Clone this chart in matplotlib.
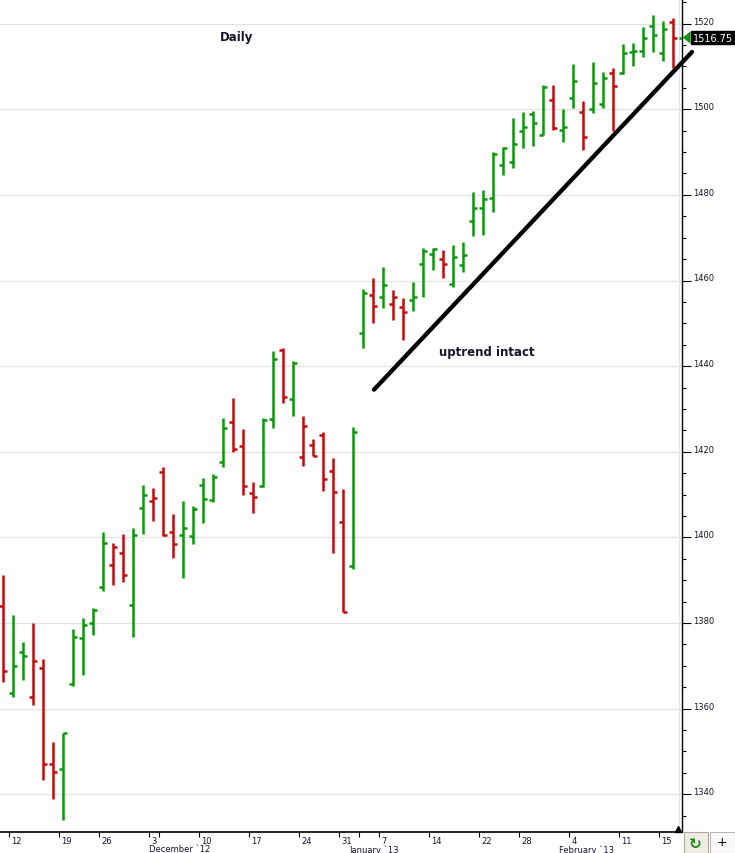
import numpy as np
import matplotlib
matplotlib.use("Agg")
import matplotlib.pyplot as plt
from matplotlib.ticker import MultipleLocator
from matplotlib.transforms import ScaledTranslation, blended_transform_factory
from matplotlib.patches import Polygon, Rectangle

# Daily OHLC bars, Nov 9 2012 .. Feb 2013
opens = [1384.0, 1363.6, 1373.3, 1362.8, 1369.5, 1347.0, 1346.0, 1365.8, 1376.4, 1380.0,
         1388.5, 1393.6, 1396.3, 1384.3, 1406.8, 1408.6, 1415.3, 1401.3, 1400.5, 1400.4,
         1412.3, 1408.8, 1417.7, 1427.0, 1421.4, 1410.4, 1412.1, 1427.6, 1443.8, 1432.3,
         1418.8, 1421.6, 1424.0, 1415.6, 1403.5, 1393.4, 1447.7, 1456.7, 1456.2, 1454.5,
         1453.7, 1455.5, 1463.9, 1466.2, 1465.0, 1459.2, 1463.7, 1473.8, 1476.9, 1479.3,
         1487.1, 1487.8, 1495.0, 1498.9, 1494.0, 1502.2, 1495.2, 1502.6, 1499.4, 1500.1,
         1501.2, 1508.5, 1508.5, 1513.3, 1513.6, 1519.5, 1513.1, 1520.4, 1516.75]
highs = [1391.2, 1381.8, 1375.6, 1380.0, 1371.6, 1352.1, 1354.4, 1378.6, 1381.1, 1383.4,
         1401.2, 1398.7, 1400.8, 1402.3, 1412.2, 1411.5, 1416.4, 1405.4, 1408.6, 1407.4,
         1413.9, 1414.8, 1428.0, 1432.5, 1425.3, 1412.9, 1428.0, 1443.5, 1444.2, 1441.3,
         1428.3, 1423.0, 1424.5, 1418.5, 1411.3, 1425.7, 1458.0, 1460.6, 1463.1, 1457.8,
         1455.9, 1459.6, 1467.6, 1467.6, 1467.1, 1468.3, 1468.9, 1480.6, 1481.1, 1490.0,
         1491.1, 1498.0, 1499.4, 1499.7, 1505.7, 1505.7, 1500.1, 1510.6, 1501.9, 1511.0,
         1508.8, 1509.6, 1515.3, 1515.4, 1519.2, 1522.1, 1520.7, 1521.4, 1516.75]
lows = [1366.3, 1362.8, 1366.7, 1360.9, 1343.4, 1339.0, 1334.0, 1365.3, 1367.9, 1377.2,
        1387.5, 1388.9, 1389.5, 1376.8, 1400.8, 1403.9, 1400.4, 1395.2, 1390.5, 1398.4,
        1403.3, 1408.3, 1416.5, 1419.9, 1410.0, 1405.8, 1411.7, 1425.5, 1431.3, 1428.4,
        1416.6, 1419.1, 1410.9, 1396.3, 1382.5, 1392.6, 1444.2, 1450.1, 1453.5, 1450.8,
        1446.2, 1452.8, 1456.1, 1462.5, 1460.5, 1458.4, 1462.1, 1470.5, 1470.7, 1475.9,
        1484.7, 1486.4, 1491.0, 1491.5, 1494.0, 1495.2, 1492.3, 1500.2, 1490.6, 1499.1,
        1500.2, 1494.9, 1508.3, 1510.0, 1512.3, 1513.3, 1511.2, 1509.6, 1516.75]
closes = [1368.8, 1369.9, 1372.2, 1371.2, 1347.0, 1345.2, 1354.4, 1376.8, 1379.6, 1383.0,
          1398.6, 1397.7, 1391.3, 1400.6, 1410.0, 1409.2, 1400.5, 1398.4, 1402.2, 1406.6,
          1408.9, 1414.2, 1425.5, 1420.6, 1412.1, 1409.5, 1427.5, 1441.7, 1432.9, 1440.7,
          1426.1, 1419.1, 1413.6, 1410.7, 1382.6, 1424.7, 1457.0, 1454.0, 1459.0, 1456.1,
          1452.7, 1456.1, 1467.0, 1467.4, 1463.9, 1465.6, 1466.0, 1476.9, 1479.0, 1489.6,
          1491.0, 1491.9, 1495.8, 1496.8, 1505.3, 1495.6, 1495.9, 1506.7, 1493.6, 1506.1,
          1507.4, 1505.5, 1513.1, 1513.7, 1516.7, 1517.4, 1518.8, 1516.75, 1516.75]
prior_close = 1375.0  # close before the first bar shown
last_price = 1516.75

# date axis: bar index of each labelled day, and of each month's first bar
day_idx = [1, 6, 10, 15, 20, 25, 30, 34, 38, 43, 48, 52, 57, 62, 66]
day_labels = ['12', '19', '26', '3', '10', '17', '24', '31', '7', '14', '22', '28', '4', '11', '15']
month_idx = [15, 35, 56]
month_labels = ['December `12', 'January `13', 'February `13']

price_ticks = list(range(1340, 1521, 20))

# hand drawn trend line (bar index, price)
trend_x = [37.13, 68.93]
trend_y = [1434.5, 1513.4]

green = '#0b960b'
red = '#c20a0a'
txt = '#14142c'

o = np.array(opens)
h = np.array(highs)
l = np.array(lows)
c = np.array(closes)
x = np.arange(len(c))
prev = np.concatenate([[prior_close], c[:-1]])
cols = np.where(c >= prev, green, red)

fig = plt.figure(figsize=(7.35, 8.54), dpi=100)
W, H = 735, 854
ax = fig.add_axes([0, 21.3 / H, 682.3 / W, 832.7 / H])

ax.vlines(x, l, h, colors=cols, lw=1.8, capstyle='butt', zorder=3)
ax.hlines(o, x - 0.38, x, colors=cols, lw=1.8, capstyle='butt', zorder=3)
ax.hlines(c, x, x + 0.38, colors=cols, lw=1.8, capstyle='butt', zorder=3)

ax.set_xlim(-0.27, 67.96)
ax.set_ylim(1331.25, 1525.76)

# axes look
for s in ['top', 'left']:
    ax.spines[s].set_visible(False)
ax.spines['right'].set_linewidth(1.0)
ax.spines['bottom'].set_linewidth(1.2)
ax.set_axisbelow(True)
ax.grid(axis='y', which='major', color='#e3e3e3', lw=0.9)
ax.axvline(x[-1] - 0.34, color='#e3e3e3', lw=0.8, zorder=1)

ax.yaxis.tick_right()
ax.set_yticks(price_ticks)
ax.yaxis.set_minor_locator(MultipleLocator(5))
ax.tick_params(axis='y', which='major', length=6.7, width=0.8, pad=1.2,
               labelsize=6, labelcolor=txt)
ax.tick_params(axis='y', which='minor', length=2.8, width=0.8)
up = ScaledTranslation(0, 3.6 / 100, fig.dpi_scale_trans)
for lab in ax.get_yticklabels():
    lab.set_transform(lab.get_transform() + up)

ax.set_xticks([i - 0.34 for i in day_idx])
ax.set_xticklabels(day_labels)
ax.set_xticks([i + 0.66 for i in month_idx], minor=True)
ax.tick_params(axis='x', which='both', length=3.6, width=0.8, pad=0,
               labelsize=6, labelcolor=txt)
right = ScaledTranslation(2.2 / 100, 0.8 / 100, fig.dpi_scale_trans)
for lab in ax.get_xticklabels():
    lab.set_ha('left')
    lab.set_transform(lab.get_transform() + right)

for i, m in zip(month_idx, month_labels):
    ax.annotate(m, xy=(i - 0.34, 0), xycoords=('data', 'axes fraction'),
                xytext=(0, -8.9), textcoords='offset points',
                ha='left', va='top', fontsize=6, color=txt, annotation_clip=False)

# trend line and notes
ax.plot(trend_x, trend_y, color='black', lw=3.1, solid_capstyle='round',
        clip_on=False, zorder=4)
ax.text(0.3474, 0.9544, 'Daily', transform=ax.transAxes, ha='center', va='center',
        fontsize=8.5, fontweight='bold', color=txt)
ax.text(0.7138, 0.5764, 'uptrend intact', transform=ax.transAxes, ha='center',
        va='center', fontsize=8.5, fontweight='bold', color=txt)

# last price marker on the price axis
bt = blended_transform_factory(fig.transFigure, ax.transData)
tri = Polygon([[682.7 / W, last_price], [690.5 / W, last_price + 1.45],
               [690.5 / W, last_price - 1.45]], closed=True, fc=green, ec='none',
              transform=bt, clip_on=False, zorder=5)
ax.add_patch(tri)
ax.text(693 / W, last_price, f'{last_price:.2f}', transform=bt, ha='left', va='center',
        fontsize=7, color='white', clip_on=False, zorder=6,
        bbox=dict(boxstyle='square,pad=0.18', fc='black', ec='black'))

# current bar marker on the date axis
ax.plot([x[-1] - 0.45], [0.0035], marker='^', ms=4.2, color='black',
        transform=blended_transform_factory(ax.transData, ax.transAxes),
        clip_on=False, zorder=6)

# little toolbar buttons in the corner
fig.add_artist(Rectangle((683.5 / W, 0), 24 / W, 21.5 / H, transform=fig.transFigure,
                         fc='#efece2', ec='#a9a9a9', lw=0.8))
fig.add_artist(Rectangle((709.5 / W, 0), 25 / W, 21.5 / H, transform=fig.transFigure,
                         fc='#fafafa', ec='#b8b8b8', lw=0.8))
fig.text(695.5 / W, 1 - 845 / H, '\u21bb', ha='center', va='center', fontsize=11,
         fontweight='bold', color='#1f8a1f')
fig.text(721.5 / W, 1 - 843 / H, '+', ha='center', va='center', fontsize=9, color='black')

fig.savefig('out.png', dpi=100)
